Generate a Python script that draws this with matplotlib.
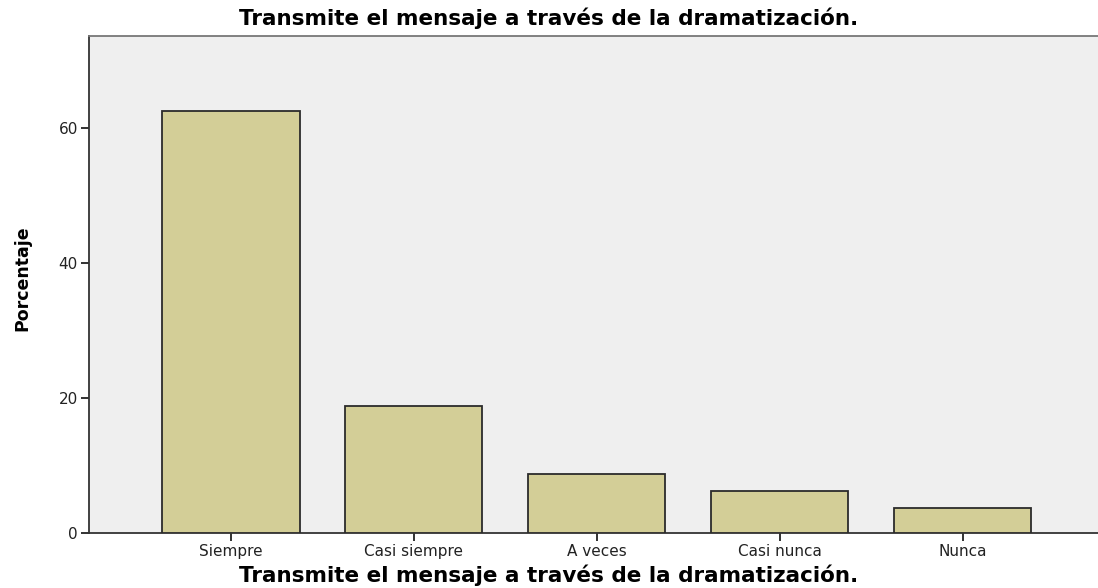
import matplotlib
matplotlib.use("Agg")
import matplotlib.pyplot as plt

categories = ["Siempre", "Casi siempre", "A veces", "Casi nunca", "Nunca"]
percentages = [62.5, 18.75, 8.75, 6.25, 3.75]
yticks = [0, 20, 40, 60]
title = "Transmite el mensaje a través de la dramatización."
ylabel = "Porcentaje"

plt.rcParams['font.family'] = ['DejaVu Sans']

fig = plt.figure(figsize=(10.98, 5.88), dpi=100)
ax = fig.add_axes([89/1098, 55/588, 1 - 89/1098 + 0.01, (533-36)/588])
ax.set_facecolor('#EFEFEF')

x = list(range(len(categories)))
ax.bar(x, percentages, width=0.75, color='#D3CE97', edgecolor='#2b2b2b', linewidth=1.3, zorder=3)

ax.set_xlim(-0.776, 4.80)
ax.set_ylim(0, 73.6)
ax.set_xticks(x)
ax.set_xticklabels(categories, fontsize=11)
ax.set_yticks(yticks)
ax.set_yticklabels([str(v) for v in yticks], fontsize=11)
ax.tick_params(axis='both', length=6, width=1.3, color='#222222', pad=2, labelcolor='#222222')

for side in ['top', 'left', 'bottom']:
    ax.spines[side].set_color('#333333')
    ax.spines[side].set_linewidth(1.3)
ax.spines['right'].set_visible(False)
ax.spines['top'].set_color('#777777')

fig.text(549/1098, 1 - 18/588, title, ha='center', va='center', fontsize=15.5, fontweight='bold')
fig.text(549/1098, 1 - 575/588, title, ha='center', va='center', fontsize=15.5, fontweight='bold')
fig.text(22/1098, 1 - 278/588, ylabel, ha='center', va='center', rotation=90,
         fontsize=12.5, fontweight='bold')

fig.savefig('out.png', dpi=100, facecolor='white')
